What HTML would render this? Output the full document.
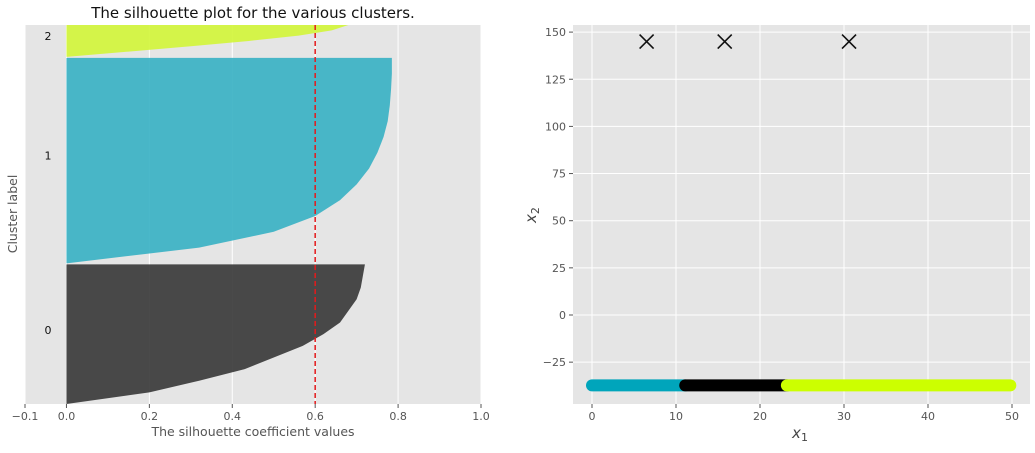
<!DOCTYPE html>
<html><head><meta charset="utf-8"><style>
body{margin:0;background:#fff;font-family:"Liberation Sans",sans-serif;}
svg text{font-family:"DejaVu Sans","Liberation Sans",sans-serif;}
</style></head><body>
<svg id="c" width="1035" height="448"></svg>
<script>
const silXTicks=[-0.1,0,0.2,0.4,0.6,0.8,1.0];
const silXLabels=["−0.1","0.0","0.2","0.4","0.6","0.8","1.0"];
const clusterLabels=["0","1","2"];
const clusterStart=[0,141,348];
const clusterEnd=[140,347,380];
const clusterColors=["#3b3b3b","#3bb2c4","#d2f53c"];
// silhouette values (descending) sampled along each cluster from top to bottom
const sil0=[0.72,0.715,0.71,0.70,0.68,0.66,0.62,0.57,0.5,0.43,0.32,0.2,0.0];
const sil1=[0.785,0.785,0.783,0.78,0.775,0.765,0.75,0.73,0.70,0.66,0.6,0.5,0.32,0.0];
const sil2=[0.68,0.64,0.56,0.44,0.3,0.15,0.0];
const silAvg=0.6;
const scatXTicks=[0,10,20,30,40,50];
const scatYTicks=[150,125,100,75,50,25,0,-25];
const segStart=[0,11.1,23.2];
const segEnd=[11.1,23.2,49.8];
const segY=[-37.3,-37.3,-37.3];
const segColors=["#00a5bb","#000000","#ccff00"];
const centerX=[6.5,15.8,30.6];
const centerY=[145,145,145];

const NS="http://www.w3.org/2000/svg";
const svg=document.getElementById('c');
function el(t,a,p){const e=document.createElementNS(NS,t);for(const k in a)e.setAttribute(k,a[k]);(p||svg).appendChild(e);return e;}
const L={x0:25,x1:481,y0:25,y1:404};
const lx=v=>L.x0+(v+0.1)/1.1*(L.x1-L.x0);
const ly=v=>L.y1-v/380*(L.y1-L.y0);
let bg=el('rect',{x:L.x0,y:L.y0,width:L.x1-L.x0,height:L.y1-L.y0,fill:'#e5e5e5'});

silXTicks.forEach((t,i)=>{
 let g=el('line',{x1:lx(t),x2:lx(t),y1:L.y0,y2:L.y1,stroke:'#fff','stroke-width':1});
 
 el('line',{x1:lx(t),x2:lx(t),y1:L.y1,y2:L.y1+4,stroke:'#555'});
 let tx=el('text',{x:lx(t),y:L.y1+16,'font-size':11,fill:'#555','text-anchor':'middle'});tx.textContent=silXLabels[i];
 
});
const clip=el('clipPath',{id:'lc'});el('rect',{x:L.x0,y:L.y0,width:L.x1-L.x0,height:L.y1-L.y0},clip);
const sils=[sil0,sil1,sil2];
const labelPos=[74,249,369];
sils.forEach((arr,c)=>{
 const a=clusterStart[c],b=clusterEnd[c];let d=`M${lx(0)},${ly(b)}`;
 arr.forEach((v,i)=>{const s=b-(b-a)*i/(arr.length-1);d+=`L${lx(v)},${ly(s)}`;});
 d+=`L${lx(0)},${ly(a)}Z`;
 let p=el('path',{d:d,fill:clusterColors[c],'fill-opacity':0.92,'clip-path':'url(#lc)'});
 
 let t=el('text',{x:48,y:ly(labelPos[c])+4,'font-size':11,fill:'#111','text-anchor':'middle'});t.textContent=clusterLabels[c];
 
});
let av=el('line',{x1:lx(silAvg),x2:lx(silAvg),y1:L.y0,y2:L.y1,stroke:'#e41a1c','stroke-width':1.5,'stroke-dasharray':'5,3'});

let tt=el('text',{x:253,y:18,'font-size':15,fill:'#111','text-anchor':'middle'});tt.textContent='The silhouette plot for the various clusters.';

let xt=el('text',{x:253,y:436,'font-size':12.5,fill:'#555','text-anchor':'middle'});xt.textContent='The silhouette coefficient values';

let yt=el('text',{x:17,y:214,'font-size':12.5,fill:'#555','text-anchor':'middle',transform:'rotate(-90 17 214)'});yt.textContent='Cluster label';

const R={x0:573,x1:1030,y0:25,y1:404};
const rx=v=>592+v*8.4;
const ry=v=>315-v*1.886;
let bg2=el('rect',{x:R.x0,y:R.y0,width:R.x1-R.x0,height:R.y1-R.y0,fill:'#e5e5e5'});

scatXTicks.forEach(t=>{
 let g=el('line',{x1:rx(t),x2:rx(t),y1:R.y0,y2:R.y1,stroke:'#fff'});
 
 el('line',{x1:rx(t),x2:rx(t),y1:R.y1,y2:R.y1+4,stroke:'#555'});
 let tx=el('text',{x:rx(t),y:R.y1+16,'font-size':11,fill:'#555','text-anchor':'middle'});tx.textContent=t;
 
});
scatYTicks.forEach(t=>{
 let g=el('line',{x1:R.x0,x2:R.x1,y1:ry(t),y2:ry(t),stroke:'#fff'});
 
 el('line',{x1:R.x0-4,x2:R.x0,y1:ry(t),y2:ry(t),stroke:'#555'});
 let tx=el('text',{x:R.x0-7,y:ry(t)+4,'font-size':11,fill:'#555','text-anchor':'end'});tx.textContent=String(t).replace('-','−');
 
});
segStart.forEach((s,i)=>{
 let r=el('line',{x1:rx(s),x2:rx(segEnd[i]),y1:ry(segY[i]),y2:ry(segY[i]),stroke:segColors[i],'stroke-width':12,'stroke-linecap':'round'});
 
});
centerX.forEach((cx,i)=>{
 const x=rx(cx),y=ry(centerY[i]);
 let g=el('path',{d:`M${x-7},${y-7}L${x+7},${y+7}M${x-7},${y+7}L${x+7},${y-7}`,stroke:'#111','stroke-width':1.6});
 
});
let x1=el('text',{x:800,y:438,'font-size':15,fill:'#444','text-anchor':'middle','font-style':'italic'});x1.innerHTML='x<tspan font-size="11" dy="3" font-style="normal">1</tspan>';

let y2=el('text',{x:536,y:215,'font-size':15,fill:'#444','text-anchor':'middle','font-style':'italic',transform:'rotate(-90 536 215)'});y2.innerHTML='x<tspan font-size="11" dy="3" font-style="normal">2</tspan>';

</script>
</body></html>
